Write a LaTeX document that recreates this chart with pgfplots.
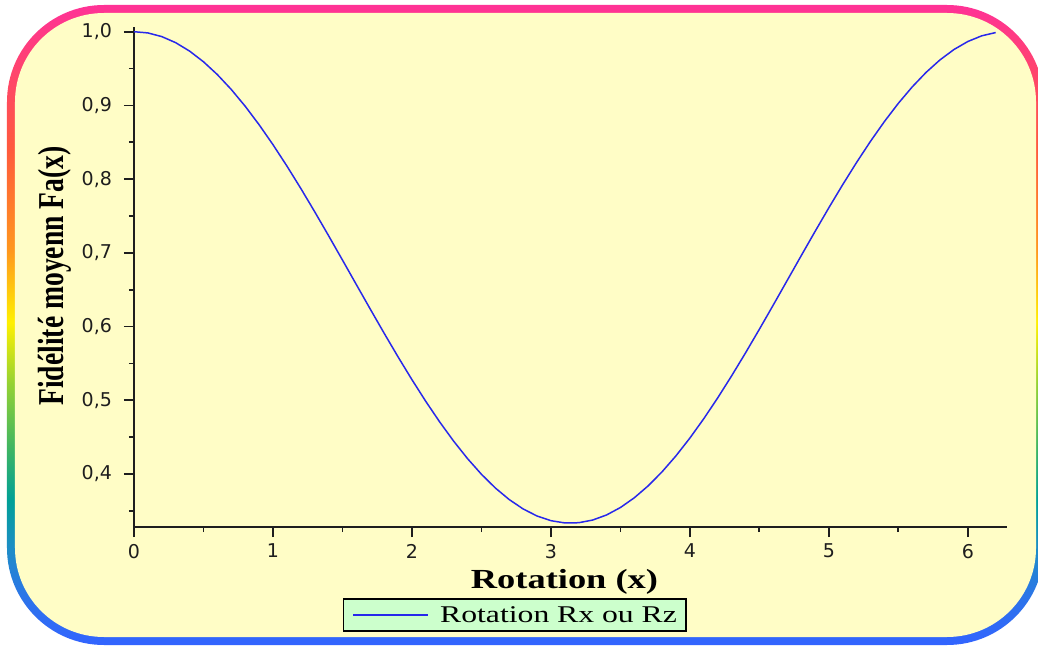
\documentclass[border=0pt]{standalone}
\usepackage{fontspec}
\usepackage{graphicx}
\usepackage{pgfplots}
\pgfplotsset{compat=1.18}
\newfontfamily\labfont[FakeStretch=1.32]{Liberation Serif}
\newfontfamily\ylabfont{Liberation Serif}
\newfontfamily\tickfont{DejaVu Sans}
\definecolor{fb1}{RGB}{50,100,255}
\definecolor{fb2}{RGB}{45,115,235}
\definecolor{fb3}{RGB}{30,140,200}
\definecolor{fb4}{RGB}{0,160,150}
\definecolor{fb5}{RGB}{60,180,100}
\definecolor{fb6}{RGB}{150,210,50}
\definecolor{fb7}{RGB}{255,240,0}
\definecolor{fb8}{RGB}{255,150,30}
\definecolor{fb9}{RGB}{255,90,60}
\definecolor{fb10}{RGB}{255,50,150}
\definecolor{bgyellow}{RGB}{255,253,198}
\definecolor{legendgreen}{RGB}{204,255,204}
\definecolor{curveblue}{RGB}{40,40,235}
\definecolor{axisblack}{RGB}{30,30,30}
\pgfdeclareverticalshading{frame}{100bp}{color(0bp)=(fb1); color(25bp)=(fb1); color(28.5bp)=(fb2); color(32.4bp)=(fb3); color(36.3bp)=(fb4); color(40.2bp)=(fb5); color(45.5bp)=(fb6); color(50.2bp)=(fb7); color(55.9bp)=(fb8); color(63.7bp)=(fb9); color(75bp)=(fb10); color(100bp)=(fb10)}
\begin{document}
\begin{tikzpicture}
\useasboundingbox (-67pt,-60.5pt) rectangle (452pt,263.5pt);
\clip (-67pt,-60.5pt) rectangle (452pt,263.5pt);
\fill[white] (-67pt,-60.5pt) rectangle (452pt,263.5pt);
\shade[shading=frame, rounded corners=48.5pt] (-63.5pt,-59pt) rectangle (455pt,261pt);
\fill[bgyellow, rounded corners=44.5pt] (-59.5pt,-55pt) rectangle (451pt,257pt);
\begin{axis}[
  at={(0pt,0pt)}, anchor=south west,
  scale only axis, width=436.6pt, height=250pt,
  xmin=0, xmax=6.2832, ymin=0.3281, ymax=1.0064,
  enlargelimits=false,
  axis x line=bottom, axis y line=left,
  axis line style={-, line width=0.9pt, color=axisblack},
  tick style={line width=0.9pt, color=axisblack},
  tick align=outside,
  major tick length=5pt, minor tick length=2.5pt,
  xtick={0,1,2,3,4,5,6},
  minor xtick={0.5,1.5,2.5,3.5,4.5,5.5},
  ytick={0.4,0.5,0.6,0.7,0.8,0.9,1.0},
  minor ytick={0.35,0.45,0.55,0.65,0.75,0.85,0.95},
  /pgf/number format/assume math mode=true,
  ticklabel style={font=\tickfont\fontsize{9.5}{10}\selectfont, text=axisblack},
  yticklabel style={/pgf/number format/.cd, fixed, fixed zerofill, precision=1, use comma, /tikz/.cd, xshift=-2.5pt},
  xticklabel style={/pgf/number format/.cd, fixed, precision=0},
  xlabel={Rotation (x)},
  xlabel style={font=\labfont\bfseries\fontsize{13.8}{15}\selectfont, at={(axis description cs:0.493,-0.122)}, anchor=base},
  ylabel={\scalebox{1}[1.32]{Fidélité moyenn Fa(x)}},
  ylabel style={font=\ylabfont\bfseries\fontsize{13.8}{15}\selectfont, at={(axis description cs:-0.0813,0.502)}, anchor=base},
  legend style={at={(axis description cs:0.2393,-0.142)}, anchor=north west, draw=black, line width=0.75pt, fill=legendgreen, inner xsep=4.5pt, inner ysep=0pt, font=\labfont\fontsize{12}{13}\selectfont, nodes={inner sep=0pt, minimum height=16pt, text depth=0pt}, column sep=5.5pt},
  legend image code/.code={\draw[#1] (0pt,0pt) -- (37.5pt,0pt);},
]
\addplot[color=curveblue, line width=0.75pt, no markers] coordinates {
(0.0,1.000000) (0.1,0.998335) (0.2,0.993356) (0.3,0.985112) (0.4,0.973687)
(0.5,0.959194) (0.6,0.941779) (0.7,0.921614) (0.8,0.898902) (0.9,0.873870)
(1.0,0.846767) (1.1,0.817865) (1.2,0.787453) (1.3,0.755833) (1.4,0.723322)
(1.5,0.690246) (1.6,0.656933) (1.7,0.623719) (1.8,0.590933) (1.9,0.558903)
(2.0,0.527951) (2.1,0.498385) (2.2,0.470500) (2.3,0.444575) (2.4,0.420869)
(2.5,0.399619) (2.6,0.381037) (2.7,0.365309) (2.8,0.352593) (2.9,0.343014)
(3.0,0.336669) (3.1,0.333622) (3.2,0.333902) (3.3,0.337507) (3.4,0.344401)
(3.5,0.354514) (3.6,0.367747) (3.7,0.383967) (3.8,0.403011) (3.9,0.424689)
(4.0,0.448785) (4.1,0.475059) (4.2,0.503246) (4.3,0.533067) (4.4,0.564222)
(4.5,0.596401) (4.6,0.629282) (4.7,0.662537) (4.8,0.695833) (4.9,0.728837)
(5.0,0.761221) (5.1,0.792659) (5.2,0.822839) (5.3,0.851458) (5.4,0.878231)
(5.5,0.902890) (5.6,0.925189) (5.7,0.944904) (5.8,0.961840) (5.9,0.975826)
(6.0,0.986723) (6.1,0.994423) (6.2,0.998847)
};
\addlegendentry{Rotation Rx ou Rz}
\end{axis}
\end{tikzpicture}
\end{document}
